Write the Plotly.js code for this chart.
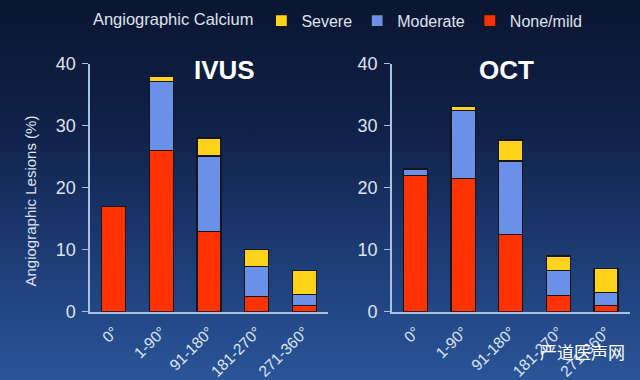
<!DOCTYPE html>
<html>
<head>
<meta charset="utf-8">
<script src="https://cdn.plot.ly/plotly-3.0.1.min.js"></script>
<style>
  html, body { margin: 0; padding: 0; }
  body { width: 640px; height: 380px; overflow: hidden;
         background: linear-gradient(to bottom, #0a1530 0%, #10224a 35%, #1e3e78 70%, #2a5598 100%); }
  #chart { width: 640px; height: 380px; }
</style>
</head>
<body>
<div id="chart"></div>
<script>
// Categories (calcium arc)
var categories = ['0°', '1-90°', '91-180°', '181-270°', '271-360°'];

// IVUS segments (% of angiographic lesions)
var ivusNoneMild = [17, 26, 13, 2.4, 1.0];
var ivusModerate = [0, 11.1, 12.1, 4.9, 1.8];
var ivusSevere   = [0, 0.8, 2.9, 2.7, 3.9];

// OCT segments
var octNoneMild = [22, 21.5, 12.5, 2.6, 1.0];
var octModerate = [1.0, 11.0, 11.8, 4.1, 2.1];
var octSevere   = [0, 0.6, 3.4, 2.3, 3.9];

var seriesNames = ['None/mild', 'Moderate', 'Severe'];
var seriesColors = ['#ff3300', '#6a90e8', '#ffd21c'];

var ivusSets = [ivusNoneMild, ivusModerate, ivusSevere];
var octSets = [octNoneMild, octModerate, octSevere];

var traces = [];
for (var i = 0; i < 3; i++) {
  traces.push({
    type: 'bar', x: categories, y: ivusSets[i], name: seriesNames[i],
    legendgroup: seriesNames[i], showlegend: true,
    marker: { color: seriesColors[i], line: { color: '#15151a', width: 1.2 } },
    xaxis: 'x', yaxis: 'y', hoverinfo: 'skip'
  });
}
for (var j = 0; j < 3; j++) {
  traces.push({
    type: 'bar', x: categories, y: octSets[j], name: seriesNames[j],
    legendgroup: seriesNames[j], showlegend: false,
    marker: { color: seriesColors[j], line: { color: '#15151a', width: 1.2 } },
    xaxis: 'x2', yaxis: 'y2', hoverinfo: 'skip'
  });
}

var txt = '#dde3ee';
var axCol = '#a9c0e6';
var fam = 'Liberation Sans, Arial, sans-serif';

function xAxis(dom, anchor) {
  return {
    domain: dom, anchor: anchor, range: [-0.5, 4.5], type: 'category',
    showline: true, linecolor: axCol, linewidth: 2, ticks: '', showgrid: false,
    tickangle: -45, ticklabelstandoff: 3,
    tickfont: { size: 15.5, color: txt, family: fam }, automargin: false
  };
}
function yAxis(dom, anchor) {
  return {
    domain: dom, anchor: anchor, range: [0, 40], dtick: 10,
    showline: true, linecolor: axCol, linewidth: 1.5, ticks: 'outside', ticklen: 6,
    tickcolor: axCol, tickwidth: 1.5, showgrid: false, zeroline: false,
    ticklabelstandoff: 3,
    tickfont: { size: 18, color: txt, family: fam }, automargin: false
  };
}

var yDom = [0.1797, 0.8324];
var layout = {
  width: 640, height: 380,
  margin: { l: 0, r: 0, t: 0, b: 0 },
  paper_bgcolor: 'rgba(0,0,0,0)', plot_bgcolor: 'rgba(0,0,0,0)',
  barmode: 'stack', bargap: 0.495,
  font: { family: fam, color: txt },
  xaxis: xAxis([0.1406, 0.5125], 'y'),
  yaxis: yAxis(yDom, 'x'),
  xaxis2: xAxis([0.612, 0.984], 'y2'),
  yaxis2: yAxis(yDom, 'x2'),
  legend: {
    orientation: 'h', x: 0.142, y: 0.99, xanchor: 'left', yanchor: 'top',
    traceorder: 'reversed', bgcolor: 'rgba(0,0,0,0)',
    font: { size: 16, color: txt, family: fam },
    title: { text: 'Angiographic Calcium', side: 'left', font: { size: 16.5, color: txt, family: fam } }
  },
  annotations: [
    { text: 'Angiographic Lesions (%)', xref: 'paper', yref: 'paper', x: 29.5 / 640, y: 1 - 201 / 380,
      xanchor: 'center', yanchor: 'middle', textangle: -90,
      showarrow: false, font: { size: 15, color: txt, family: fam } },
    { text: '<b>IVUS</b>', xref: 'paper', yref: 'paper', x: 224 / 640, y: 1 - 70 / 380,
      xanchor: 'center', yanchor: 'middle',
      showarrow: false, font: { size: 26, color: '#ffffff', family: fam } },
    { text: '<b>OCT</b>', xref: 'paper', yref: 'paper', x: 506 / 640, y: 1 - 70 / 380,
      xanchor: 'center', yanchor: 'middle',
      showarrow: false, font: { size: 26, color: '#ffffff', family: fam } },
    { text: '严道医声网', xref: 'paper', yref: 'paper', x: 582 / 640, y: 1 - 351 / 380,
      xanchor: 'center', yanchor: 'middle',
      showarrow: false, font: { size: 17, color: '#ffffff', family: 'Noto Sans CJK SC' } }
  ]
};

Plotly.newPlot('chart', traces, layout, { staticPlot: true, displayModeBar: false });
</script>
</body>
</html>
